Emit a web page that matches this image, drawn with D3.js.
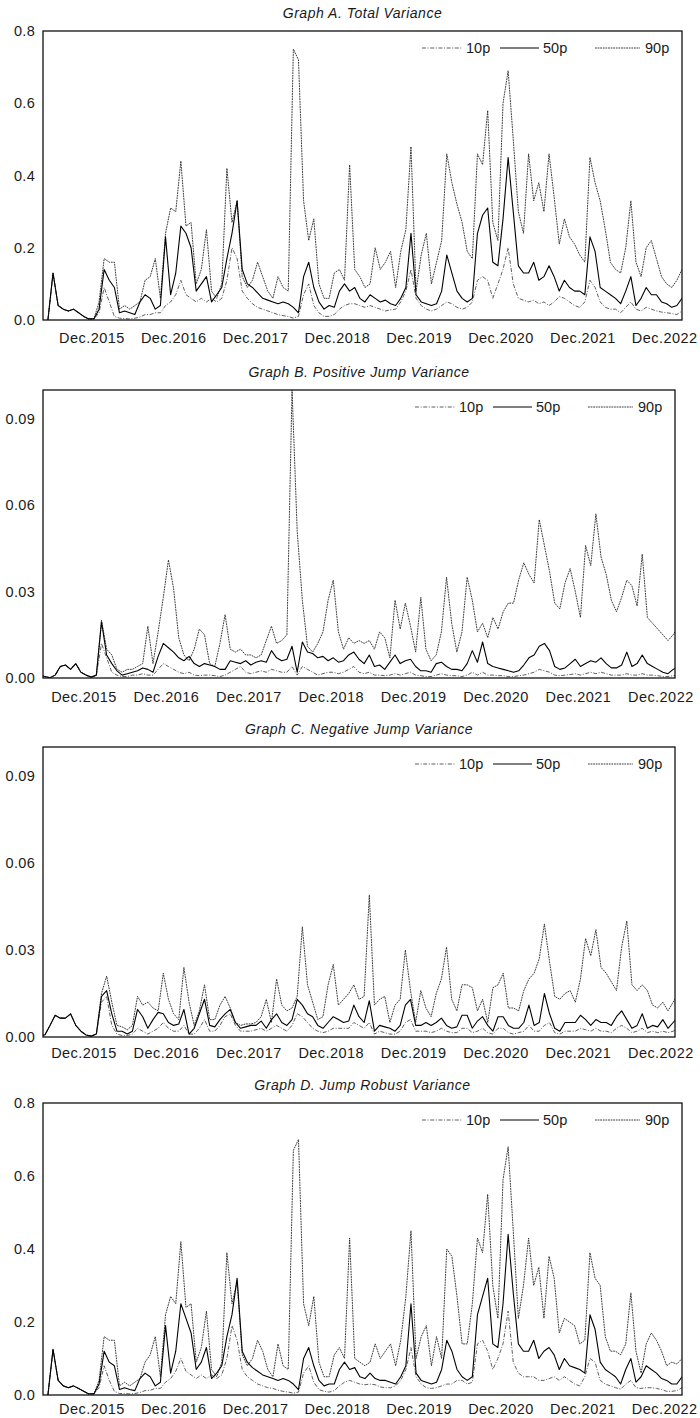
<!DOCTYPE html>
<html>
<head>
<meta charset="utf-8">
<script src="https://cdn.jsdelivr.net/npm/d3@7"></script>
<style>
  body { margin: 0; background: #fff; }
  svg text { font-family: "Liberation Sans", Arial, Helvetica, sans-serif; fill: #1a1a1a; }
</style>
</head>
<body>
<div id="chart"></div>
<script>
var width = 700,
    height = 1418;

// one observation every 1/16 of a year, starting mid-2015
var startYear = 2015.42,
    step = 1 / 16;

var tickYears = [2015, 2016, 2017, 2018, 2019, 2020, 2021, 2022];
var tickLabels = ["Dec.2015", "Dec.2016", "Dec.2017", "Dec.2018", "Dec.2019", "Dec.2020", "Dec.2021", "Dec.2022"];
var seriesNames = ["10p", "50p", "90p"];

// Graph A. Total Variance
var totalP10 = [0, 0.13, 0.04, 0.03, 0.025, 0.03, 0.02, 0.01, 0.003, 0.003,
  0.02, 0.09, 0.05, 0.01, 0.005, 0.004, 0.003, 0.005, 0.008, 0.015,
  0.015, 0.02, 0.02, 0.04, 0.05, 0.07, 0.11, 0.07, 0.06, 0.05,
  0.06, 0.05, 0.06, 0.05, 0.06, 0.11, 0.20, 0.17, 0.08, 0.06,
  0.045, 0.035, 0.03, 0.025, 0.02, 0.015, 0.012, 0.01, 0.005, 0.01,
  0.07, 0.10, 0.04, 0.02, 0.01, 0.01, 0.015, 0.03, 0.04, 0.045,
  0.045, 0.04, 0.035, 0.04, 0.035, 0.03, 0.025, 0.028, 0.03, 0.05,
  0.08, 0.14, 0.06, 0.04, 0.03, 0.025, 0.03, 0.04, 0.05, 0.045,
  0.035, 0.03, 0.035, 0.05, 0.11, 0.12, 0.11, 0.06, 0.10, 0.14,
  0.20, 0.10, 0.06, 0.055, 0.05, 0.055, 0.045, 0.05, 0.04, 0.05,
  0.065, 0.06, 0.05, 0.04, 0.035, 0.05, 0.11, 0.09, 0.05, 0.035,
  0.03, 0.03, 0.02, 0.035, 0.05, 0.03, 0.025, 0.035, 0.03, 0.025,
  0.022, 0.02, 0.018, 0.015, 0.025];
var totalP50 = [0, 0.13, 0.04, 0.03, 0.025, 0.03, 0.02, 0.01, 0.003, 0.003,
  0.03, 0.14, 0.11, 0.09, 0.02, 0.025, 0.02, 0.015, 0.05, 0.07,
  0.06, 0.03, 0.04, 0.23, 0.07, 0.13, 0.26, 0.24, 0.20, 0.08,
  0.10, 0.12, 0.05, 0.07, 0.09, 0.17, 0.24, 0.33, 0.14, 0.10,
  0.09, 0.075, 0.06, 0.055, 0.05, 0.045, 0.05, 0.045, 0.035, 0.02,
  0.12, 0.16, 0.09, 0.05, 0.03, 0.04, 0.035, 0.08, 0.10, 0.08,
  0.09, 0.06, 0.05, 0.07, 0.06, 0.05, 0.055, 0.045, 0.04, 0.06,
  0.09, 0.24, 0.07, 0.05, 0.045, 0.04, 0.045, 0.08, 0.18, 0.13,
  0.08, 0.06, 0.05, 0.06, 0.24, 0.29, 0.31, 0.16, 0.15, 0.28,
  0.45, 0.30, 0.15, 0.13, 0.13, 0.16, 0.11, 0.12, 0.15, 0.12,
  0.08, 0.11, 0.09, 0.08, 0.08, 0.07, 0.23, 0.19, 0.09, 0.08,
  0.07, 0.06, 0.045, 0.08, 0.12, 0.04, 0.06, 0.09, 0.07, 0.07,
  0.05, 0.045, 0.035, 0.04, 0.06];
var totalP90 = [0, 0.13, 0.04, 0.03, 0.025, 0.03, 0.02, 0.01, 0.003, 0.003,
  0.05, 0.17, 0.16, 0.16, 0.03, 0.04, 0.03, 0.04, 0.05, 0.11,
  0.12, 0.17, 0.06, 0.24, 0.31, 0.30, 0.44, 0.26, 0.27, 0.10,
  0.14, 0.25, 0.08, 0.06, 0.10, 0.42, 0.27, 0.33, 0.12, 0.09,
  0.11, 0.16, 0.12, 0.08, 0.06, 0.12, 0.09, 0.08, 0.75, 0.72,
  0.33, 0.22, 0.28, 0.10, 0.06, 0.06, 0.13, 0.14, 0.11, 0.43,
  0.14, 0.12, 0.09, 0.10, 0.20, 0.14, 0.16, 0.19, 0.09, 0.19,
  0.25, 0.48, 0.08, 0.18, 0.24, 0.10, 0.16, 0.22, 0.46, 0.38,
  0.32, 0.27, 0.19, 0.17, 0.46, 0.43, 0.58, 0.27, 0.22, 0.60,
  0.69, 0.50, 0.30, 0.24, 0.46, 0.33, 0.38, 0.30, 0.46, 0.34,
  0.21, 0.28, 0.23, 0.21, 0.18, 0.16, 0.45, 0.38, 0.33, 0.25,
  0.16, 0.14, 0.13, 0.20, 0.33, 0.16, 0.12, 0.20, 0.22, 0.17,
  0.12, 0.10, 0.09, 0.11, 0.14];

// Graph B. Positive Jump Variance
var posP10 = [0.001, 0.0005, 0.0001, 0.001, 0.004, 0.0045, 0.003, 0.005, 0.002, 0.001,
  0.0003, 0.001, 0.012, 0.007, 0.002, 0.001, 0.0005, 0.0005, 0.001, 0.001,
  0.0015, 0.001, 0.001, 0.003, 0.005, 0.004, 0.003, 0.002, 0.0015, 0.002,
  0.001, 0.0008, 0.001, 0.001, 0.0008, 0.0005, 0.001, 0.002, 0.003, 0.004,
  0.002, 0.0015, 0.002, 0.0025, 0.002, 0.003, 0.0025, 0.002, 0.002, 0.004,
  0.001, 0.004, 0.003, 0.002, 0.001, 0.0015, 0.002, 0.002, 0.0015, 0.002,
  0.003, 0.004, 0.002, 0.0015, 0.002, 0.001, 0.001, 0.0008, 0.001, 0.0015,
  0.001, 0.0015, 0.002, 0.001, 0.0008, 0.0005, 0.0005, 0.001, 0.0015, 0.001,
  0.0008, 0.0008, 0.0005, 0.001, 0.002, 0.001, 0.002, 0.001, 0.001, 0.0008,
  0.0008, 0.0005, 0.0005, 0.0008, 0.001, 0.0015, 0.002, 0.003, 0.0025, 0.002,
  0.001, 0.0008, 0.001, 0.0012, 0.0015, 0.001, 0.0015, 0.002, 0.0015, 0.002,
  0.0015, 0.001, 0.001, 0.001, 0.0015, 0.001, 0.001, 0.0015, 0.001, 0.001,
  0.0008, 0.0005, 0.0005, 0.0008, 0.001];
var posP50 = [0.001, 0.0005, 0.0001, 0.001, 0.004, 0.0045, 0.003, 0.005, 0.002, 0.001,
  0.0003, 0.001, 0.0195, 0.008, 0.005, 0.0025, 0.001, 0.0015, 0.002, 0.0025,
  0.0035, 0.003, 0.002, 0.0075, 0.012, 0.0105, 0.009, 0.007, 0.006, 0.0075,
  0.005, 0.004, 0.005, 0.0045, 0.004, 0.003, 0.003, 0.006, 0.0055, 0.005,
  0.006, 0.0045, 0.0055, 0.006, 0.0055, 0.0095, 0.007, 0.006, 0.0065, 0.011,
  0.002, 0.0125, 0.009, 0.0085, 0.007, 0.0075, 0.006, 0.007, 0.0055, 0.006,
  0.008, 0.009, 0.0065, 0.005, 0.008, 0.004, 0.0045, 0.003, 0.0055, 0.008,
  0.005, 0.006, 0.0065, 0.004, 0.0025, 0.0025, 0.002, 0.005, 0.0055, 0.004,
  0.003, 0.003, 0.0025, 0.005, 0.0095, 0.0055, 0.0125, 0.005, 0.004, 0.0035,
  0.003, 0.0025, 0.002, 0.0025, 0.0045, 0.007, 0.008, 0.011, 0.012, 0.0095,
  0.004, 0.003, 0.0035, 0.005, 0.0065, 0.004, 0.005, 0.006, 0.0055, 0.007,
  0.005, 0.0035, 0.0035, 0.0045, 0.009, 0.004, 0.005, 0.008, 0.005, 0.004,
  0.003, 0.002, 0.0015, 0.003, 0.004];
var posP90 = [0.001, 0.0005, 0.0001, 0.001, 0.004, 0.0045, 0.003, 0.005, 0.002, 0.001,
  0.0003, 0.001, 0.02, 0.010, 0.008, 0.003, 0.002, 0.003, 0.003, 0.004,
  0.005, 0.018, 0.005, 0.016, 0.028, 0.041, 0.031, 0.014, 0.008, 0.006,
  0.010, 0.017, 0.015, 0.005, 0.004, 0.012, 0.022, 0.010, 0.009, 0.010,
  0.008, 0.008, 0.007, 0.008, 0.013, 0.018, 0.012, 0.013, 0.015, 0.10,
  0.051, 0.027, 0.011, 0.009, 0.012, 0.016, 0.027, 0.034, 0.016, 0.010,
  0.014, 0.012, 0.013, 0.012, 0.013, 0.010, 0.016, 0.014, 0.007, 0.027,
  0.017, 0.026, 0.018, 0.009, 0.028, 0.010, 0.006, 0.008, 0.016, 0.035,
  0.019, 0.009, 0.016, 0.035, 0.027, 0.016, 0.019, 0.014, 0.021, 0.017,
  0.023, 0.026, 0.026, 0.034, 0.040, 0.036, 0.033, 0.055, 0.046, 0.037,
  0.026, 0.024, 0.033, 0.038, 0.030, 0.021, 0.046, 0.039, 0.057, 0.042,
  0.036, 0.027, 0.023, 0.028, 0.034, 0.032, 0.025, 0.043, 0.021, 0.019,
  0.017, 0.015, 0.013, 0.015, 0.018];

// Graph C. Negative Jump Variance
var negP10 = [0.0005, 0.0007, 0.004, 0.0075, 0.0065, 0.0065, 0.008, 0.004, 0.002, 0.0007,
  0.0003, 0.001, 0.012, 0.014, 0.004, 0.001, 0.0005, 0.0005, 0.001, 0.003,
  0.002, 0.001, 0.002, 0.003, 0.005, 0.003, 0.002, 0.002, 0.004, 0.001,
  0.001, 0.003, 0.006, 0.002, 0.002, 0.004, 0.007, 0.008, 0.004, 0.002,
  0.002, 0.002, 0.0025, 0.003, 0.002, 0.003, 0.004, 0.003, 0.002, 0.004,
  0.008, 0.007, 0.005, 0.003, 0.002, 0.0015, 0.002, 0.003, 0.003, 0.003,
  0.003, 0.005, 0.004, 0.003, 0.005, 0.001, 0.002, 0.0015, 0.001, 0.001,
  0.002, 0.005, 0.006, 0.002, 0.002, 0.002, 0.0015, 0.002, 0.003, 0.002,
  0.0015, 0.0015, 0.003, 0.003, 0.0015, 0.002, 0.003, 0.0015, 0.001, 0.003,
  0.003, 0.0015, 0.001, 0.0015, 0.002, 0.004, 0.002, 0.002, 0.004, 0.005,
  0.0015, 0.001, 0.002, 0.002, 0.002, 0.003, 0.0025, 0.002, 0.003, 0.002,
  0.002, 0.0015, 0.003, 0.004, 0.003, 0.0015, 0.002, 0.003, 0.0015, 0.002,
  0.0015, 0.002, 0.0015, 0.002, 0.003];
var negP50 = [0.0005, 0.0007, 0.004, 0.0075, 0.0065, 0.0065, 0.008, 0.004, 0.002, 0.0007,
  0.0003, 0.001, 0.014, 0.016, 0.008, 0.002, 0.002, 0.001, 0.002, 0.0095,
  0.007, 0.003, 0.006, 0.0085, 0.008, 0.005, 0.004, 0.0045, 0.0095, 0.001,
  0.003, 0.008, 0.013, 0.004, 0.0035, 0.006, 0.008, 0.0095, 0.005, 0.003,
  0.0035, 0.004, 0.004, 0.0055, 0.003, 0.006, 0.008, 0.005, 0.004, 0.006,
  0.013, 0.011, 0.008, 0.007, 0.004, 0.003, 0.005, 0.007, 0.006, 0.005,
  0.0055, 0.011, 0.007, 0.005, 0.0125, 0.002, 0.004, 0.0035, 0.003, 0.002,
  0.004, 0.011, 0.013, 0.004, 0.004, 0.005, 0.004, 0.005, 0.0065, 0.004,
  0.003, 0.0035, 0.0075, 0.0075, 0.003, 0.0055, 0.007, 0.004, 0.002, 0.007,
  0.007, 0.004, 0.003, 0.003, 0.005, 0.011, 0.004, 0.005, 0.015, 0.008,
  0.003, 0.002, 0.005, 0.005, 0.005, 0.0075, 0.006, 0.004, 0.006, 0.005,
  0.005, 0.004, 0.007, 0.009, 0.006, 0.003, 0.004, 0.008, 0.003, 0.004,
  0.0035, 0.006, 0.003, 0.005, 0.007];
var negP90 = [0.0005, 0.0007, 0.004, 0.0075, 0.0065, 0.0065, 0.008, 0.004, 0.002, 0.0007,
  0.0003, 0.001, 0.015, 0.021, 0.012, 0.004, 0.0035, 0.0025, 0.004, 0.014,
  0.011, 0.012, 0.010, 0.009, 0.022, 0.013, 0.008, 0.006, 0.024, 0.012,
  0.004, 0.009, 0.018, 0.006, 0.006, 0.011, 0.014, 0.010, 0.005, 0.004,
  0.0045, 0.0045, 0.005, 0.007, 0.013, 0.005, 0.020, 0.011, 0.009, 0.010,
  0.014, 0.038, 0.018, 0.012, 0.006, 0.007, 0.018, 0.025, 0.011, 0.013,
  0.015, 0.018, 0.013, 0.014, 0.049, 0.011, 0.013, 0.014, 0.005, 0.011,
  0.013, 0.030, 0.016, 0.005, 0.016, 0.010, 0.007, 0.015, 0.020, 0.031,
  0.013, 0.009, 0.018, 0.018, 0.017, 0.009, 0.013, 0.005, 0.017, 0.018,
  0.022, 0.010, 0.010, 0.009, 0.016, 0.020, 0.022, 0.027, 0.039, 0.026,
  0.014, 0.013, 0.015, 0.016, 0.012, 0.020, 0.034, 0.028, 0.037, 0.024,
  0.022, 0.019, 0.016, 0.031, 0.040, 0.018, 0.016, 0.018, 0.016, 0.011,
  0.010, 0.012, 0.009, 0.012, 0.015];

// Graph D. Jump Robust Variance
var robustP10 = [0, 0.125, 0.04, 0.025, 0.02, 0.025, 0.018, 0.01, 0.003, 0.003,
  0.02, 0.08, 0.04, 0.01, 0.004, 0.004, 0.003, 0.004, 0.007, 0.012,
  0.013, 0.018, 0.018, 0.035, 0.045, 0.065, 0.10, 0.065, 0.055, 0.045,
  0.055, 0.045, 0.055, 0.045, 0.055, 0.10, 0.19, 0.15, 0.07, 0.05,
  0.04, 0.03, 0.025, 0.02, 0.018, 0.013, 0.01, 0.008, 0.005, 0.008,
  0.06, 0.08, 0.035, 0.015, 0.01, 0.008, 0.012, 0.025, 0.035, 0.04,
  0.035, 0.03, 0.028, 0.03, 0.028, 0.022, 0.02, 0.02, 0.025, 0.04,
  0.07, 0.13, 0.05, 0.03, 0.02, 0.018, 0.02, 0.025, 0.03, 0.03,
  0.04, 0.04, 0.03, 0.035, 0.14, 0.15, 0.12, 0.07, 0.10, 0.14,
  0.23, 0.09, 0.06, 0.05, 0.05, 0.05, 0.04, 0.04, 0.045, 0.05,
  0.04, 0.05, 0.04, 0.03, 0.025, 0.05, 0.10, 0.09, 0.04, 0.03,
  0.025, 0.02, 0.016, 0.03, 0.04, 0.02, 0.018, 0.02, 0.02, 0.018,
  0.015, 0.01, 0.01, 0.012, 0.02];
var robustP50 = [0, 0.125, 0.04, 0.025, 0.02, 0.025, 0.018, 0.01, 0.003, 0.003,
  0.03, 0.12, 0.09, 0.08, 0.015, 0.02, 0.015, 0.012, 0.045, 0.06,
  0.05, 0.025, 0.035, 0.19, 0.06, 0.12, 0.25, 0.21, 0.17, 0.07,
  0.09, 0.13, 0.045, 0.06, 0.08, 0.16, 0.22, 0.32, 0.12, 0.09,
  0.075, 0.065, 0.055, 0.05, 0.045, 0.04, 0.045, 0.04, 0.03, 0.015,
  0.10, 0.13, 0.08, 0.04, 0.025, 0.03, 0.03, 0.07, 0.09, 0.07,
  0.075, 0.05, 0.045, 0.06, 0.045, 0.04, 0.04, 0.035, 0.03, 0.05,
  0.08, 0.25, 0.06, 0.04, 0.035, 0.03, 0.035, 0.07, 0.15, 0.12,
  0.07, 0.05, 0.04, 0.05, 0.22, 0.27, 0.32, 0.14, 0.13, 0.25,
  0.44, 0.28, 0.14, 0.12, 0.12, 0.15, 0.10, 0.12, 0.13, 0.11,
  0.07, 0.10, 0.08, 0.075, 0.07, 0.06, 0.22, 0.18, 0.09, 0.07,
  0.06, 0.05, 0.03, 0.07, 0.10, 0.035, 0.05, 0.08, 0.07, 0.06,
  0.045, 0.04, 0.03, 0.03, 0.05];
var robustP90 = [0, 0.125, 0.04, 0.025, 0.02, 0.025, 0.018, 0.01, 0.003, 0.003,
  0.04, 0.16, 0.15, 0.15, 0.025, 0.035, 0.025, 0.035, 0.045, 0.09,
  0.11, 0.16, 0.05, 0.22, 0.27, 0.25, 0.42, 0.24, 0.25, 0.09,
  0.13, 0.23, 0.07, 0.05, 0.09, 0.39, 0.25, 0.31, 0.11, 0.08,
  0.10, 0.15, 0.12, 0.07, 0.05, 0.14, 0.08, 0.07, 0.67, 0.70,
  0.25, 0.19, 0.27, 0.09, 0.05, 0.05, 0.11, 0.13, 0.10, 0.43,
  0.10, 0.09, 0.08, 0.09, 0.14, 0.10, 0.12, 0.14, 0.08, 0.15,
  0.27, 0.45, 0.10, 0.16, 0.19, 0.08, 0.16, 0.10, 0.40, 0.38,
  0.27, 0.14, 0.14, 0.25, 0.43, 0.39, 0.55, 0.30, 0.21, 0.59,
  0.68, 0.45, 0.21, 0.30, 0.43, 0.30, 0.35, 0.21, 0.38, 0.32,
  0.17, 0.21, 0.20, 0.19, 0.14, 0.15, 0.39, 0.32, 0.30, 0.16,
  0.12, 0.12, 0.11, 0.14, 0.28, 0.12, 0.06, 0.14, 0.17, 0.15,
  0.12, 0.08, 0.09, 0.085, 0.10];

// panel layout
var left = 43;
var panels = [
  {title: "Graph A. Total Variance", top: 31, bottom: 320, right: 682, span: [2015.36, 2023.17], labelGap: 23,
   yMax: 0.8, yTicks: [0, 0.2, 0.4, 0.6, 0.8], fmt: ".1f", series: [totalP10, totalP50, totalP90]},
  {title: "Graph B. Positive Jump Variance", top: 390, bottom: 678, right: 675, span: [2015.46, 2023.13], labelGap: 24,
   yMax: 0.1, yTicks: [0, 0.03, 0.06, 0.09], fmt: ".2f", series: [posP10, posP50, posP90]},
  {title: "Graph C. Negative Jump Variance", top: 747, bottom: 1037, right: 675, span: [2015.46, 2023.13], labelGap: 21,
   yMax: 0.1, yTicks: [0, 0.03, 0.06, 0.09], fmt: ".2f", series: [negP10, negP50, negP90]},
  {title: "Graph D. Jump Robust Variance", top: 1103, bottom: 1395, right: 682, span: [2015.36, 2023.17], labelGap: 19,
   yMax: 0.8, yTicks: [0, 0.2, 0.4, 0.6, 0.8], fmt: ".1f", series: [robustP10, robustP50, robustP90]}
];

// line look for 10p, 50p, 90p
var styles = [
  {stroke: "#4d4d4d", dash: "4,1.6,1,1.6", width: 0.9},
  {stroke: "#000", dash: null, width: 1.1},
  {stroke: "#262626", dash: "1.8,0.8", width: 0.9}
];
// legend positions, measured back from the right edge of the frame
var legendPos = [{x1: 260, x2: 220, tx: 216}, {x1: 182, x2: 143, tx: 139}, {x1: 87, x2: 42, tx: 37}];
var drawOrder = [0, 2, 1];

var svg = d3.select("#chart").append("svg")
    .attr("width", width)
    .attr("height", height);

panels.forEach(function(p, k) {
  var x = d3.scaleLinear().domain(p.span).range([left, p.right]);
  var y = d3.scaleLinear().domain([0, p.yMax]).range([p.bottom, p.top]);

  var g = svg.append("g");

  g.append("clipPath").attr("id", "clip" + k)
    .append("rect")
      .attr("x", left).attr("y", p.top)
      .attr("width", p.right - left).attr("height", p.bottom - p.top);

  var line = d3.line()
      .x(function(d, i) { return x(startYear + i * step); })
      .y(function(d) { return y(d); });

  var lines = g.append("g").attr("clip-path", "url(#clip" + k + ")");
  drawOrder.forEach(function(s) {
    lines.append("path")
        .datum(p.series[s])
        .attr("d", line)
        .attr("fill", "none")
        .attr("stroke", styles[s].stroke)
        .attr("stroke-width", styles[s].width)
        .attr("stroke-dasharray", styles[s].dash)
        .attr("stroke-linejoin", "round");
  });

  // frame
  g.append("rect")
      .attr("x", left).attr("y", p.top)
      .attr("width", p.right - left).attr("height", p.bottom - p.top)
      .attr("fill", "none")
      .attr("stroke", "#111")
      .attr("stroke-width", 1.3);

  // y labels
  var fmt = d3.format(p.fmt);
  g.selectAll(".ylab")
    .data(p.yTicks)
    .enter().append("text")
      .attr("x", left - 8)
      .attr("y", function(d) { return y(d); })
      .attr("dy", "0.36em")
      .attr("text-anchor", "end")
      .style("font-size", "14.5px")
      .style("letter-spacing", "0.3px")
      .text(function(d) { return fmt(d); });

  // x labels
  g.selectAll(".xlab")
    .data(tickYears)
    .enter().append("text")
      .attr("x", function(d) { return x(d + 0.958); })
      .attr("y", p.bottom + p.labelGap)
      .attr("text-anchor", "middle")
      .style("font-size", "14.5px")
      .style("letter-spacing", "0.45px")
      .text(function(d, i) { return tickLabels[i]; });

  // title
  g.append("text")
      .attr("x", (left + p.right) / 2)
      .attr("y", p.top - 13)
      .attr("text-anchor", "middle")
      .style("font-size", "14px")
      .style("font-style", "italic")
      .style("letter-spacing", "0.5px")
      .text(p.title);

  // legend
  var ly = p.top + 17;
  seriesNames.forEach(function(name, s) {
    var lp = legendPos[s];
    g.append("line")
        .attr("x1", p.right - lp.x1).attr("x2", p.right - lp.x2)
        .attr("y1", ly).attr("y2", ly)
        .attr("stroke", styles[s].stroke)
        .attr("stroke-width", styles[s].width)
        .attr("stroke-dasharray", styles[s].dash);
    g.append("text")
        .attr("x", p.right - lp.tx)
        .attr("y", ly)
        .attr("dy", "0.36em")
        .style("font-size", "14.5px")
        .text(name);
  });
});
</script>
</body>
</html>
